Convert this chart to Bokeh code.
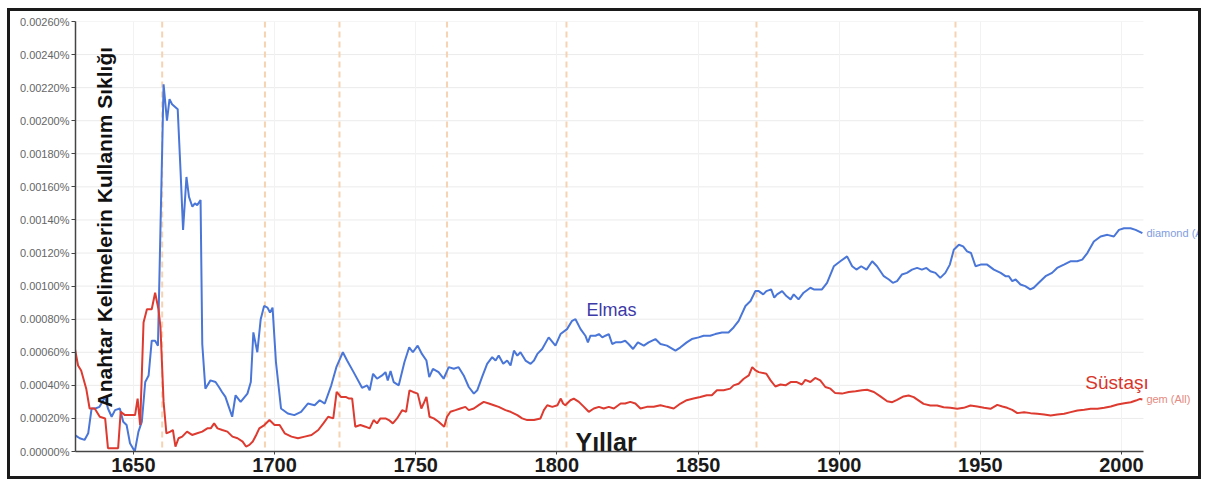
import numpy as np
from bokeh.plotting import figure
from bokeh.models import Range1d, Label, Span, PrintfTickFormatter, FixedTicker
from bokeh.embed import file_html
from bokeh.resources import INLINE

# Values, in units of 0.00001 %
diamond_years = [1629.2, 1631, 1632.7, 1634, 1635.2, 1636.5, 1638, 1640, 1641, 1642.3, 1643.5, 1645.2,
                 1646.4, 1647.6, 1648.8, 1650.5, 1651.8, 1653, 1654.2, 1655.4, 1656.5, 1657.7, 1658.7,
                 1660.7, 1661.9, 1662.8, 1663.7, 1665.7, 1666.7, 1667.6, 1668.8, 1669.7, 1670.9, 1671.8,
                 1672.6, 1673.8, 1674.4, 1675.5, 1677.3, 1679.1, 1680.3, 1681.4, 1682.6, 1683.8, 1685,
                 1686.2, 1688, 1690.4, 1691.6, 1692.5, 1693.9, 1695.1, 1696.3, 1697.5, 1698.4, 1699.3,
                 1700.5, 1702.3, 1704.7, 1707, 1709.4, 1711.8, 1714.2, 1716, 1717.8, 1720.1, 1721.9,
                 1724.2, 1725.7, 1728, 1731, 1732.8, 1733.7, 1734.9, 1736.3, 1738.1, 1739.3, 1740.1,
                 1741.1, 1742.2, 1744, 1746, 1747.7, 1749, 1750.7, 1752.2, 1753.8, 1754.8, 1756.1,
                 1758.1, 1759.9, 1761.7, 1763.5, 1765.2, 1767, 1768.8, 1770.6, 1771.8, 1773.5, 1775.3,
                 1777.1, 1778.3, 1779.4, 1781, 1782.4, 1783.6, 1784.8, 1786, 1787.1, 1788.9, 1790.7,
                 1791.9, 1793.1, 1794.8, 1797.1, 1799.5, 1801.3, 1803.6, 1805.4, 1806.6, 1808.4, 1810.1,
                 1811, 1811.9, 1813.7, 1814.9, 1816.1, 1817.2, 1818.4, 1819.6, 1820.8, 1822.6, 1824.2,
                 1825.4, 1827, 1828.7, 1830.8, 1832.5, 1834.9, 1836.7, 1839, 1842, 1843.8, 1846, 1847.8,
                 1850.2, 1852, 1854.3, 1856.1, 1858.5, 1860.8, 1862.6, 1864.4, 1866.8, 1868.6, 1870.3,
                 1871.5, 1873.1, 1874.2, 1875.9, 1877, 1878, 1879.8, 1881.3, 1882.8, 1883.9, 1885.6,
                 1887.4, 1889.8, 1891, 1893.9, 1895.7, 1898.1, 1900.4, 1902.8, 1904.6, 1906.1, 1907.8,
                 1909.7, 1911.7, 1913.4, 1915.8, 1917.6, 1919, 1920.5, 1922.2, 1924, 1925.8, 1927.6,
                 1929.3, 1930.9, 1932.3, 1934.1, 1935.8, 1937.6, 1939.2, 1940.6, 1942.4, 1943.9, 1945.3,
                 1946.7, 1948.3, 1950.1, 1952.4, 1954.8, 1957.2, 1958.9, 1960.1, 1961.3, 1962.5, 1964.2,
                 1965.9, 1967.7, 1968.9, 1970.7, 1973.1, 1975.4, 1977.2, 1979.6, 1981.9, 1984.3, 1986.1,
                 1987.9, 1990.2, 1992.6, 1995, 1997.3, 1999.1, 2000.9, 2003.2, 2005, 2007.4]
diamond = [10, 8, 7, 11, 26, 26, 27, 33, 26, 21, 25, 26,
           18, 16, 5, 0, 12, 18, 42, 46, 67, 67, 64,
           222, 200, 213, 210, 207, 170, 134, 166, 154, 148, 150,
           149, 152, 65, 38, 43, 42, 39, 36, 33, 27, 21,
           34, 30, 35, 42, 72, 60, 80, 88, 87, 84, 87,
           54, 26, 23, 22, 24, 29, 28, 31, 29, 40, 51,
           60, 55, 48, 38.5, 40, 37, 47, 44, 46, 48, 43,
           48.6, 42, 40, 54, 63, 60, 64, 59, 55, 45, 50,
           48, 44, 51, 50, 51, 46, 39, 35, 37, 45, 53,
           57, 55, 58, 53, 55, 52, 61, 58, 60, 55, 53,
           55, 59, 62, 69, 64, 71, 74, 79, 80, 74, 70,
           66, 70, 70, 71, 69, 70, 71, 65, 66, 66, 67,
           65, 62, 66, 64, 66, 68, 65, 64, 61, 63, 66, 68,
           69, 70, 70, 71, 72, 72, 75, 79, 88, 91, 97,
           97, 95, 97, 98, 93, 95, 97, 94, 92, 95, 92,
           96, 99, 98, 98, 102, 112, 115, 118, 112, 110, 112,
           110, 115, 112, 106, 104, 102, 103, 107, 108, 110, 111,
           110, 111, 109, 108, 105, 108, 113, 122, 125, 124, 121,
           120, 112, 113, 113, 110, 108, 106, 106, 103, 104, 101,
           100, 98, 99, 102, 106, 108, 111, 113, 115, 115, 116,
           120, 127, 130, 131, 130, 134, 135, 135, 134, 132]

gem_years = [1629.2, 1630.4, 1631.5, 1633.3, 1634.5, 1636.3, 1638.1, 1640, 1641, 1642.9, 1644.6, 1645.5,
             1647, 1648.8, 1650.6, 1651.5, 1652.4, 1653.6, 1654.8, 1656.5, 1657.7, 1658.9, 1659.6,
             1660.7, 1661.7, 1663.1, 1664, 1664.9, 1666, 1667.3, 1669, 1670.8, 1672.6, 1674.4, 1676.2,
             1677.4, 1678.6, 1679.8, 1681.5, 1683.3, 1685.1, 1686.9, 1688.7, 1689.9, 1691.1, 1692.3,
             1693.5, 1694.6, 1696.4, 1698.2, 1700, 1701.8, 1703.6, 1706, 1708.3, 1710.7, 1713.1,
             1715.5, 1717.3, 1719, 1720.8, 1722, 1723.5, 1725.2, 1726.4, 1727.5, 1728.6, 1730.4,
             1732.2, 1733.7, 1735.1, 1736.3, 1737.5, 1739.3, 1740.5, 1741.9, 1743.4, 1745.2, 1746.6,
             1747.8, 1749.1, 1750.7, 1752, 1752.8, 1753.8, 1754.9, 1756.4, 1758.1, 1760.1, 1761.1,
             1762.3, 1764.1, 1765.8, 1767.6, 1768.8, 1770.6, 1772.3, 1774.1, 1775.9, 1777.7, 1779.4,
             1781.8, 1783.6, 1786, 1787.7, 1789.5, 1791.9, 1794.2, 1795.4, 1796.6, 1798.4, 1800.2,
             1801.4, 1802.2, 1803, 1804.8, 1806, 1807.8, 1809.6, 1811.3, 1813.1, 1814.9, 1816.6,
             1818.4, 1820.2, 1822.6, 1824.2, 1826, 1827.8, 1829.6, 1831.9, 1834.3, 1836.7, 1839,
             1841.4, 1843.8, 1846, 1848.4, 1850.8, 1853.1, 1854.9, 1856.7, 1859.1, 1861.4, 1862.6,
             1864.4, 1866.2, 1868, 1869.2, 1870.4, 1871.5, 1874.2, 1875.7, 1877.4, 1879.2, 1881,
             1882.8, 1885, 1886.8, 1888, 1889.8, 1891.5, 1893.3, 1895.1, 1896.9, 1898.6, 1901,
             1903.4, 1905.8, 1908.1, 1909.9, 1912.3, 1914.6, 1917, 1918.8, 1920.5, 1922.8, 1924.6,
             1926.4, 1928.2, 1929.9, 1932.3, 1934.7, 1937, 1939.4, 1941.8, 1944.1, 1946.5, 1948.9,
             1951.3, 1953.6, 1956, 1957.8, 1959.5, 1961.3, 1963.1, 1965.5, 1967.8, 1970.2, 1972.6,
             1974.9, 1977.3, 1979.7, 1982, 1984.4, 1986.8, 1989.1, 1991.5, 1993.9, 1996.2, 1998.6,
             2001, 2003.3, 2005.1, 2006.6, 2007.4]
gem = [63, 52, 49, 38, 26, 26, 21, 20, 2, 2, 2, 24,
       22, 22, 22, 32, 16, 78, 86, 86, 96, 86, 75,
       30, 11, 12, 13, 3, 8, 9, 12, 10, 11, 12, 14,
       14, 17, 14, 13, 12, 9, 8, 6, 3, 4, 6,
       10, 14, 16, 19, 16, 16, 11, 9, 8, 9, 10,
       13, 17, 21, 20, 36, 33, 33, 32, 32, 15, 16,
       15, 14, 19, 17, 20, 20, 19, 17, 20, 25, 24,
       37, 36, 35, 26, 29, 33, 21, 20, 18, 15, 21,
       24, 25, 26, 27, 25, 26, 28, 30, 29, 28, 27,
       25, 24, 22, 20, 19, 19, 20, 25, 28, 27, 28,
       32, 29, 28, 31, 32, 30, 27, 24, 26, 27, 26,
       27, 26, 29, 29, 30, 29, 26, 27, 27, 28, 27,
       26, 29, 31, 32, 33, 34, 34, 37, 37, 38, 40,
       41, 44, 46, 51, 49, 48, 47, 43, 39.3, 40.5, 40,
       42, 42, 40.5, 43.3, 42, 44.5, 43, 39, 38, 35.3, 35,
       36, 36.5, 37, 37.3, 36, 33.3, 30.4, 29.8, 31.2, 33.3, 33.9,
       32.9, 30.8, 28.8, 27.8, 27.8, 26.8, 26.4, 25.8, 26.4, 27.8, 27.2,
       26.4, 25.8, 28.2, 27.2, 26.4, 25.2, 23.2, 23.8, 23.2, 22.8, 22.4,
       21.8, 22.4, 22.8, 23.8, 24.8, 25.2, 25.8, 25.8, 26.4, 27.2, 28.4,
       29.2, 29.8, 30.8, 31.8, 31.5]

event_years = [1660.2, 1696.6, 1723.0, 1761.1, 1803.4, 1870.7, 1941.2]
x_ticks = [1650, 1700, 1750, 1800, 1850, 1900, 1950, 2000]
y_ticks = [0.0, 0.0002, 0.0004, 0.0006, 0.0008, 0.0010, 0.0012, 0.0014, 0.0016, 0.0018,
           0.0020, 0.0022, 0.0024, 0.0026]

series_names = ["diamond (All)", "gem (All)"]
series_labels = ["Elmas", "Süstaşı"]
x_title = "Yıllar"
y_title = "Anahtar Kelimelerin Kullanım Sıklığı"

diamond_pct = np.array(diamond) * 1e-5
gem_pct = np.array(gem) * 1e-5

FONT = "Liberation Sans"
BLUE = "#4a76d8"
RED = "#dd3a30"
X_START, X_DATA_END, X_VIEW_END = 1629.5, 2007.8, 2029.4

p = figure(width=1194, height=471, output_backend="svg", toolbar_location=None,
           x_range=Range1d(X_START, X_VIEW_END), y_range=Range1d(0, 0.0026),
           min_border_left=65, min_border_right=0, min_border_top=10, min_border_bottom=31)
p.styles = {"border": "3px solid #1a1a1a", "margin": "8px 0 0 7px"}
p.outline_line_color = None
p.background_fill_color = "white"
p.border_fill_color = "white"

# grids: horizontal lines only across the data span
p.ygrid.grid_line_color = None
p.segment(x0=[X_START] * len(y_ticks), y0=y_ticks, x1=[X_DATA_END] * len(y_ticks), y1=y_ticks,
          line_color="#ebebeb", line_width=1, level="underlay")
p.xgrid.grid_line_color = "#f2f2f2"
p.xgrid.ticker = FixedTicker(ticks=x_ticks)

# axes
p.xaxis.ticker = FixedTicker(ticks=x_ticks)
p.xaxis.bounds = (X_START, X_DATA_END)
p.yaxis.ticker = FixedTicker(ticks=y_ticks)
p.yaxis.formatter = PrintfTickFormatter(format="%.5f%%")
for ax in (p.xaxis[0], p.yaxis[0]):
    ax.axis_line_color = "#444444"
    ax.axis_line_width = 1.5
    ax.major_tick_line_color = "#444444"
    ax.minor_tick_line_color = None
    ax.major_tick_in = 0
p.yaxis.major_tick_out = 4
p.xaxis.major_tick_out = 3
p.yaxis.major_label_text_font = FONT
p.yaxis.major_label_text_font_size = "11px"
p.yaxis.major_label_text_color = "#666666"
p.yaxis.major_label_standoff = 2
p.xaxis.major_label_text_font = FONT
p.xaxis.major_label_text_font_size = "20px"
p.xaxis.major_label_text_font_style = "bold"
p.xaxis.major_label_text_color = "#1a1a1a"
p.xaxis.major_label_standoff = 3

for yr in event_years:
    p.add_layout(Span(location=yr, dimension="height", line_color="#f6d3b2",
                      line_width=2, line_dash="6 4", level="underlay"))

p.line(diamond_years, diamond_pct, line_color=BLUE, line_width=2)
p.line(gem_years, gem_pct, line_color=RED, line_width=2)

p.add_layout(Label(x=diamond_years[-1], y=diamond_pct[-1], x_offset=4, text=series_names[0],
                   text_font=FONT, text_font_size="11px", text_color="#7f9de0",
                   text_baseline="middle", text_align="left"))
p.add_layout(Label(x=gem_years[-1], y=gem_pct[-1], x_offset=4, text=series_names[1],
                   text_font=FONT, text_font_size="11px", text_color="#e58a80",
                   text_baseline="middle", text_align="left"))

p.add_layout(Label(x=1810.5, y=0.000857, text=series_labels[0], text_font=FONT,
                   text_font_size="18px", text_color="#3d3aa8", text_baseline="alphabetic"))
p.add_layout(Label(x=1987.2, y=0.000419, text=series_labels[1], text_font=FONT,
                   text_font_size="19px", text_color="#d8352a", text_baseline="alphabetic"))
p.add_layout(Label(x=1806.6, y=0.00006, text=x_title, text_font=FONT,
                   text_font_size="25px", text_font_style="bold", text_color="#1a1a1a",
                   text_baseline="alphabetic"))
p.add_layout(Label(x=1639.7, y=0.000266, text=y_title, text_font=FONT, angle=np.pi / 2,
                   text_font_size="21px", text_font_style="bold", text_color="#111111",
                   text_baseline="alphabetic", text_align="left"))

open("out.html", "w").write(file_html(p, INLINE))
